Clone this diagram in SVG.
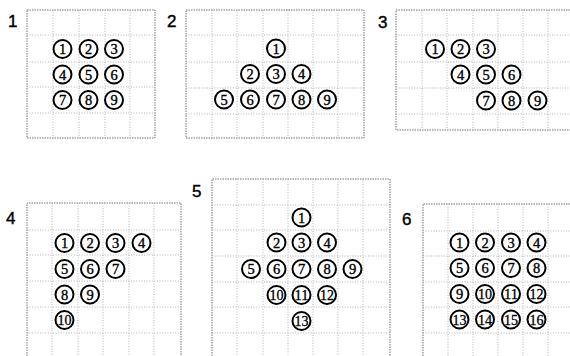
<svg xmlns="http://www.w3.org/2000/svg" width="570" height="356" viewBox="0 0 570 356">
<style>
.bg{fill:#fff}
.frame{fill:none;stroke:#777;stroke-width:1;stroke-dasharray:1.5 1}
.grid{fill:none;stroke:#aaa;stroke-width:0.9;stroke-dasharray:1 1.6}
.c{fill:#fff;stroke:#000;stroke-width:2}
.n{font-family:"Liberation Serif","Times New Roman",serif;font-size:14.5px;fill:#000;stroke:#000;stroke-width:0.35;text-anchor:middle}
.n2{font-family:"Liberation Serif","Times New Roman",serif;font-size:14px;fill:#000;stroke:#000;stroke-width:0.3;text-anchor:middle}
.lab{font-family:"Liberation Sans",Arial,sans-serif;font-size:17px;fill:#000;stroke:#000;stroke-width:0.4}
</style>
<rect class="bg" width="570" height="356"/>

<!-- Panel 1 -->
<g id="panel1">
<text class="lab" x="8" y="27">1</text>
<rect class="frame" x="27" y="10" width="128" height="128"/>
<path class="grid" d="M53 10V138M79 10V138M105 10V138M130 10V138M27 35H155M27 62H155M27 87H155M27 113H155"/>
<g id="p1n1"><circle class="c" cx="62.5" cy="49" r="9"/><text class="n" x="62.5" y="54">1</text></g>
<g id="p1n2"><circle class="c" cx="88.5" cy="49" r="9"/><text class="n" x="88.5" y="54">2</text></g>
<g id="p1n3"><circle class="c" cx="114" cy="49" r="9"/><text class="n" x="114" y="54">3</text></g>
<g id="p1n4"><circle class="c" cx="62.5" cy="74.5" r="9"/><text class="n" x="62.5" y="79.5">4</text></g>
<g id="p1n5"><circle class="c" cx="88.5" cy="74.5" r="9"/><text class="n" x="88.5" y="79.5">5</text></g>
<g id="p1n6"><circle class="c" cx="114" cy="74.5" r="9"/><text class="n" x="114" y="79.5">6</text></g>
<g id="p1n7"><circle class="c" cx="62.5" cy="100" r="9"/><text class="n" x="62.5" y="105">7</text></g>
<g id="p1n8"><circle class="c" cx="88.5" cy="100" r="9"/><text class="n" x="88.5" y="105">8</text></g>
<g id="p1n9"><circle class="c" cx="114" cy="100" r="9"/><text class="n" x="114" y="105">9</text></g>
</g>

<!-- Panel 2 -->
<g id="panel2">
<text class="lab" x="167" y="27">2</text>
<rect class="frame" x="186" y="10" width="178" height="128"/>
<path class="grid" d="M212 10V138M237 10V138M263 10V138M288 10V138M313 10V138M338 10V138M186 35H364M186 62H364M186 88H364M186 114H364"/>
<g id="p2n1"><circle class="c" cx="276" cy="48.5" r="9"/><text class="n" x="276" y="53.5">1</text></g>
<g id="p2n2"><circle class="c" cx="250" cy="74" r="9"/><text class="n" x="250" y="79">2</text></g>
<g id="p2n3"><circle class="c" cx="276" cy="74" r="9"/><text class="n" x="276" y="79">3</text></g>
<g id="p2n4"><circle class="c" cx="301.5" cy="74" r="9"/><text class="n" x="301.5" y="79">4</text></g>
<g id="p2n5"><circle class="c" cx="224" cy="99.5" r="9"/><text class="n" x="224" y="104.5">5</text></g>
<g id="p2n6"><circle class="c" cx="250" cy="99.5" r="9"/><text class="n" x="250" y="104.5">6</text></g>
<g id="p2n7"><circle class="c" cx="276" cy="99.5" r="9"/><text class="n" x="276" y="104.5">7</text></g>
<g id="p2n8"><circle class="c" cx="301.5" cy="99.5" r="9"/><text class="n" x="301.5" y="104.5">8</text></g>
<g id="p2n9"><circle class="c" cx="327" cy="99.5" r="9"/><text class="n" x="327" y="104.5">9</text></g>
</g>

<!-- Panel 3 -->
<g id="panel3">
<text class="lab" x="378" y="28">3</text>
<path class="frame" d="M570 10H396V130H570"/>
<path class="grid" d="M422 10V130M447 10V130M473 10V130M498 10V130M523 10V130M548 10V130M396 35H570M396 62H570M396 88H570M396 114H570"/>
<g id="p3n1"><circle class="c" cx="435" cy="49" r="9"/><text class="n" x="435" y="54">1</text></g>
<g id="p3n2"><circle class="c" cx="460.5" cy="49" r="9"/><text class="n" x="460.5" y="54">2</text></g>
<g id="p3n3"><circle class="c" cx="486" cy="49" r="9"/><text class="n" x="486" y="54">3</text></g>
<g id="p3n4"><circle class="c" cx="460.5" cy="74.5" r="9"/><text class="n" x="460.5" y="79.5">4</text></g>
<g id="p3n5"><circle class="c" cx="486" cy="74.5" r="9"/><text class="n" x="486" y="79.5">5</text></g>
<g id="p3n6"><circle class="c" cx="511.5" cy="74.5" r="9"/><text class="n" x="511.5" y="79.5">6</text></g>
<g id="p3n7"><circle class="c" cx="486" cy="100.5" r="9"/><text class="n" x="486" y="105.5">7</text></g>
<g id="p3n8"><circle class="c" cx="511.5" cy="100.5" r="9"/><text class="n" x="511.5" y="105.5">8</text></g>
<g id="p3n9"><circle class="c" cx="537.5" cy="100.5" r="9"/><text class="n" x="537.5" y="105.5">9</text></g>
</g>

<!-- Panel 4 -->
<g id="panel4">
<text class="lab" x="6" y="224">4</text>
<path class="frame" d="M27 356V203H181V356"/>
<path class="grid" d="M52 203V356M78 203V356M103 203V356M129 203V356M154 203V356M27 230H181M27 255H181M27 281H181M27 307H181M27 333H181"/>
<g id="p4n1"><circle class="c" cx="64.5" cy="243" r="9"/><text class="n" x="64.5" y="248">1</text></g>
<g id="p4n2"><circle class="c" cx="90" cy="243" r="9"/><text class="n" x="90" y="248">2</text></g>
<g id="p4n3"><circle class="c" cx="115.5" cy="243" r="9"/><text class="n" x="115.5" y="248">3</text></g>
<g id="p4n4"><circle class="c" cx="141.5" cy="243" r="9"/><text class="n" x="141.5" y="248">4</text></g>
<g id="p4n5"><circle class="c" cx="64.5" cy="269" r="9"/><text class="n" x="64.5" y="274">5</text></g>
<g id="p4n6"><circle class="c" cx="90" cy="269" r="9"/><text class="n" x="90" y="274">6</text></g>
<g id="p4n7"><circle class="c" cx="115.5" cy="269" r="9"/><text class="n" x="115.5" y="274">7</text></g>
<g id="p4n8"><circle class="c" cx="64.5" cy="294.5" r="9"/><text class="n" x="64.5" y="299.5">8</text></g>
<g id="p4n9"><circle class="c" cx="90" cy="294.5" r="9"/><text class="n" x="90" y="299.5">9</text></g>
<g id="p4n10"><circle class="c" cx="64.5" cy="320" r="9"/><text class="n2" x="64.5" y="325" textLength="14" lengthAdjust="spacingAndGlyphs">10</text></g>
</g>

<!-- Panel 5 -->
<g id="panel5">
<text class="lab" x="192" y="197">5</text>
<path class="frame" d="M212 356V179H390V356"/>
<path class="grid" d="M237 179V356M263 179V356M288 179V356M313 179V356M338 179V356M363 179V356M212 205H390M212 230H390M212 256H390M212 282H390M212 307H390M212 333H390"/>
<g id="p5n1"><circle class="c" cx="301.5" cy="217.5" r="9"/><text class="n" x="301.5" y="222.5">1</text></g>
<g id="p5n2"><circle class="c" cx="276.5" cy="242.5" r="9"/><text class="n" x="276.5" y="247.5">2</text></g>
<g id="p5n3"><circle class="c" cx="301.5" cy="242.5" r="9"/><text class="n" x="301.5" y="247.5">3</text></g>
<g id="p5n4"><circle class="c" cx="327" cy="242.5" r="9"/><text class="n" x="327" y="247.5">4</text></g>
<g id="p5n5"><circle class="c" cx="251" cy="269" r="9"/><text class="n" x="251" y="274">5</text></g>
<g id="p5n6"><circle class="c" cx="276.5" cy="269" r="9"/><text class="n" x="276.5" y="274">6</text></g>
<g id="p5n7"><circle class="c" cx="301.5" cy="269" r="9"/><text class="n" x="301.5" y="274">7</text></g>
<g id="p5n8"><circle class="c" cx="327" cy="269" r="9"/><text class="n" x="327" y="274">8</text></g>
<g id="p5n9"><circle class="c" cx="352.5" cy="269" r="9"/><text class="n" x="352.5" y="274">9</text></g>
<g id="p5n10"><circle class="c" cx="276.5" cy="295" r="9"/><text class="n2" x="276.5" y="300" textLength="14" lengthAdjust="spacingAndGlyphs">10</text></g>
<g id="p5n11"><circle class="c" cx="301.5" cy="295" r="9"/><text class="n2" x="301.5" y="300" textLength="14" lengthAdjust="spacingAndGlyphs">11</text></g>
<g id="p5n12"><circle class="c" cx="327" cy="295" r="9"/><text class="n2" x="327" y="300" textLength="14" lengthAdjust="spacingAndGlyphs">12</text></g>
<g id="p5n13"><circle class="c" cx="301.5" cy="321" r="9"/><text class="n2" x="301.5" y="326" textLength="14" lengthAdjust="spacingAndGlyphs">13</text></g>
</g>

<!-- Panel 6 -->
<g id="panel6">
<text class="lab" x="402" y="225">6</text>
<path class="frame" d="M423 356V204H570"/>
<path class="grid" d="M448 204V356M473 204V356M498 204V356M523 204V356M548 204V356M423 231H570M423 256H570M423 282H570M423 307H570M423 333H570"/>
<g id="p6n1"><circle class="c" cx="459.5" cy="242.5" r="9"/><text class="n" x="459.5" y="247.5">1</text></g>
<g id="p6n2"><circle class="c" cx="485" cy="242.5" r="9"/><text class="n" x="485" y="247.5">2</text></g>
<g id="p6n3"><circle class="c" cx="511" cy="242.5" r="9"/><text class="n" x="511" y="247.5">3</text></g>
<g id="p6n4"><circle class="c" cx="536.5" cy="242.5" r="9"/><text class="n" x="536.5" y="247.5">4</text></g>
<g id="p6n5"><circle class="c" cx="459.5" cy="268" r="9"/><text class="n" x="459.5" y="273">5</text></g>
<g id="p6n6"><circle class="c" cx="485" cy="268" r="9"/><text class="n" x="485" y="273">6</text></g>
<g id="p6n7"><circle class="c" cx="511" cy="268" r="9"/><text class="n" x="511" y="273">7</text></g>
<g id="p6n8"><circle class="c" cx="536.5" cy="268" r="9"/><text class="n" x="536.5" y="273">8</text></g>
<g id="p6n9"><circle class="c" cx="459.5" cy="294" r="9"/><text class="n" x="459.5" y="299">9</text></g>
<g id="p6n10"><circle class="c" cx="485" cy="294" r="9"/><text class="n2" x="485" y="299" textLength="14" lengthAdjust="spacingAndGlyphs">10</text></g>
<g id="p6n11"><circle class="c" cx="511" cy="294" r="9"/><text class="n2" x="511" y="299" textLength="14" lengthAdjust="spacingAndGlyphs">11</text></g>
<g id="p6n12"><circle class="c" cx="536.5" cy="294" r="9"/><text class="n2" x="536.5" y="299" textLength="14" lengthAdjust="spacingAndGlyphs">12</text></g>
<g id="p6n13"><circle class="c" cx="459.5" cy="319.5" r="9"/><text class="n2" x="459.5" y="324.5" textLength="14" lengthAdjust="spacingAndGlyphs">13</text></g>
<g id="p6n14"><circle class="c" cx="485" cy="319.5" r="9"/><text class="n2" x="485" y="324.5" textLength="14" lengthAdjust="spacingAndGlyphs">14</text></g>
<g id="p6n15"><circle class="c" cx="511" cy="319.5" r="9"/><text class="n2" x="511" y="324.5" textLength="14" lengthAdjust="spacingAndGlyphs">15</text></g>
<g id="p6n16"><circle class="c" cx="536.5" cy="319.5" r="9"/><text class="n2" x="536.5" y="324.5" textLength="14" lengthAdjust="spacingAndGlyphs">16</text></g>
</g>

<g id="connectors"></g>
</svg>
